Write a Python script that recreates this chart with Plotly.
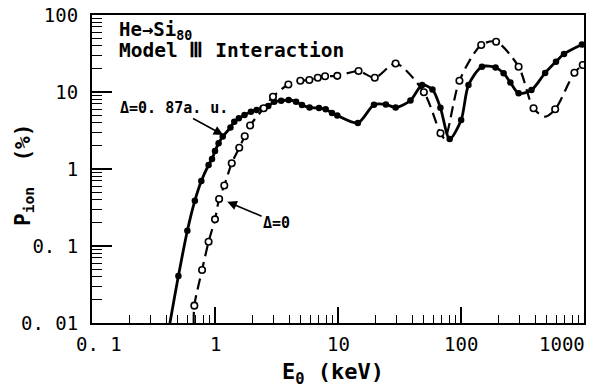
import math
import plotly.graph_objects as go

# ---- data ----
# Delta = 0.87 a.u. (solid line, filled dots)
e_solid = [0.43, 0.504, 0.596, 0.686, 0.774, 0.887, 0.946, 1.0, 1.07, 1.156, 1.336, 1.434,
           1.563, 1.738, 1.959, 2.18, 2.43, 2.71, 3.03, 3.45, 3.97, 4.56, 5.10, 5.87, 7.01,
           7.94, 8.94, 9.87, 14.5, 19.6, 24.5, 29.4, 38.8, 48.3, 58.6, 68.0, 80.9, 100.3,
           115, 148, 191, 222, 252, 294, 374, 483, 592, 688, 962]
p_solid = [0.01, 0.0408, 0.158, 0.388, 0.699, 1.127, 1.348, 1.71, 2.16, 2.64, 3.46, 4.11,
           4.55, 5.03, 5.55, 5.84, 6.14, 6.58, 7.48, 7.71, 7.87, 7.48, 6.78, 6.29, 6.20,
           5.96, 5.33, 4.95, 3.96, 6.84, 6.88, 6.29, 7.76, 12.3, 10.8, 6.24, 2.45, 4.33,
           12.3, 21.3, 20.8, 17.5, 13.3, 9.62, 10.6, 17.7, 24.8, 31.2, 41.4]
mark_solid = [False] + [True] * (len(e_solid) - 1)

# Delta = 0 (dashed line, open circles)
e_dash = [0.671, 0.679, 0.785, 0.887, 1.0, 1.080, 1.19, 1.368, 1.574, 1.745, 1.93, 2.49,
          2.96, 3.95, 4.94, 5.85, 6.85, 7.85, 9.87, 14.7, 19.9, 29.4, 49.9, 68.1, 73.8,
          97.1, 146, 193, 294, 389, 484, 583, 836, 977]
p_dash = [0.01, 0.0168, 0.0488, 0.1137, 0.222, 0.408, 0.611, 1.186, 1.885, 2.66, 3.67, 6.14,
          8.66, 12.5, 14.0, 14.3, 15.3, 16.0, 16.2, 18.7, 15.3, 23.5, 9.94, 2.91, 2.49,
          14.0, 40.8, 45.0, 21.3, 6.14, 4.78, 5.96, 17.8, 22.4]
mark_dash = [False] + [True] * 23 + [False] + [True] * 5 + [False] + [True] * 3

x_tick_vals = [0.1, 1, 10, 100, 1000]
x_tick_text = ["0. 1", "1", "10", "100", "1000"]
y_tick_vals = [0.01, 0.1, 1, 10, 100]
y_tick_text = ["0. 01", "0. 1", "1", "10", "100"]

FONT = "DejaVu Sans Mono"

fig = go.Figure()

fig.add_trace(go.Scatter(
    x=e_solid, y=p_solid, mode="lines",
    line=dict(color="black", width=2.8, shape="spline", smoothing=0.8),
    showlegend=False, hoverinfo="skip"))
fig.add_trace(go.Scatter(
    x=[e for e, m in zip(e_solid, mark_solid) if m],
    y=[p for p, m in zip(p_solid, mark_solid) if m],
    mode="markers", marker=dict(symbol="circle", size=6.5, color="black"),
    showlegend=False))

fig.add_trace(go.Scatter(
    x=e_dash, y=p_dash, mode="lines",
    line=dict(color="black", width=2.2, dash="11px,6px", shape="spline", smoothing=0.8),
    showlegend=False, hoverinfo="skip"))
fig.add_trace(go.Scatter(
    x=[e for e, m in zip(e_dash, mark_dash) if m],
    y=[p for p, m in zip(p_dash, mark_dash) if m],
    mode="markers",
    marker=dict(symbol="circle", size=6.5, color="white",
                line=dict(color="black", width=1.6)),
    showlegend=False))

minor_x = [m * 10 ** k for k in range(-1, 3) for m in range(2, 10)]
minor_y = [m * 10 ** k for k in range(-2, 2) for m in range(2, 10)]

fig.update_xaxes(
    type="log", range=[-1, 3], showgrid=False, zeroline=False, automargin=False,
    showline=True, linecolor="black", linewidth=2, mirror=True,
    tickmode="array", tickvals=x_tick_vals, showticklabels=False,
    ticks="inside", ticklen=16, tickwidth=1.5, tickcolor="black",
    minor=dict(tickmode="array", tickvals=minor_x, ticks="inside", ticklen=8,
               tickwidth=1.3, tickcolor="black", showgrid=False))
fig.update_yaxes(
    type="log", range=[-2, 2], showgrid=False, zeroline=False, automargin=False,
    showline=True, linecolor="black", linewidth=2, mirror=True,
    tickmode="array", tickvals=y_tick_vals, ticktext=y_tick_text,
    ticks="inside", ticklen=20, tickwidth=1.5, tickcolor="black",
    ticklabelstandoff=8,
    tickfont=dict(family=FONT, size=19, color="black"),
    minor=dict(tickmode="array", tickvals=minor_y, ticks="inside", ticklen=10,
               tickwidth=1.3, tickcolor="black", showgrid=False))

annotations = []
x_shift = [7, 0, 0, 0, -22]
for v, t, s in zip(x_tick_vals, x_tick_text, x_shift):
    annotations.append(dict(x=math.log10(v), y=0, xref="x", yref="paper", text=t,
                            showarrow=False, xanchor="center", yanchor="middle",
                            xshift=s, yshift=-21,
                            font=dict(family=FONT, size=19, color="black")))

# axis titles
annotations.append(dict(x=0.49, y=0, xref="paper", yref="paper",
                        text="<b>E<sub>0</sub> (keV)</b>", showarrow=False,
                        xanchor="center", yanchor="middle", yshift=-50,
                        font=dict(family=FONT, size=22, color="black")))
annotations.append(dict(x=0, y=0.5, xref="paper", yref="paper",
                        text="<b>P<sub>ion</sub>\u00a0\u00a0(%)</b>", showarrow=False,
                        textangle=-90, xanchor="center", yanchor="middle", xshift=-68,
                        yshift=-6,
                        font=dict(family=FONT, size=21, color="black")))

# in-plot labels
annotations.append(dict(x=-0.80, y=1.80, xref="x", yref="y",
                        text="<b>He→Si<sub>80</sub></b>", showarrow=False,
                        xanchor="left", yanchor="middle",
                        font=dict(family=FONT, size=19, color="black")))
annotations.append(dict(x=-0.80, y=1.54, xref="x", yref="y",
                        text="<b>Model Ⅲ Interaction</b>", showarrow=False,
                        xanchor="left", yanchor="middle",
                        font=dict(family=FONT, size=19.5, color="black")))
annotations.append(dict(x=0.067, y=0.4416, xref="x", yref="y",
                        ax=-0.334, ay=0.792, axref="x", ayref="y",
                        text="<b>Δ=0. 87a. u.</b>", showarrow=True, arrowhead=2,
                        arrowsize=1.2, arrowwidth=1.6, arrowcolor="black", standoff=0,
                        font=dict(family=FONT, size=15, color="black")))
annotations.append(dict(x=0.0998, y=-0.4247, xref="x", yref="y",
                        ax=0.501, ay=-0.695, axref="x", ayref="y",
                        text="<b>Δ=0</b>", showarrow=True, arrowhead=2,
                        arrowsize=1.2, arrowwidth=1.6, arrowcolor="black", standoff=0,
                        font=dict(family=FONT, size=15, color="black")))

fig.update_layout(
    width=597, height=387,
    margin=dict(l=92, r=13, t=15, b=64),
    paper_bgcolor="white", plot_bgcolor="white",
    showlegend=False,
    annotations=annotations)

fig.write_html("out.html")
